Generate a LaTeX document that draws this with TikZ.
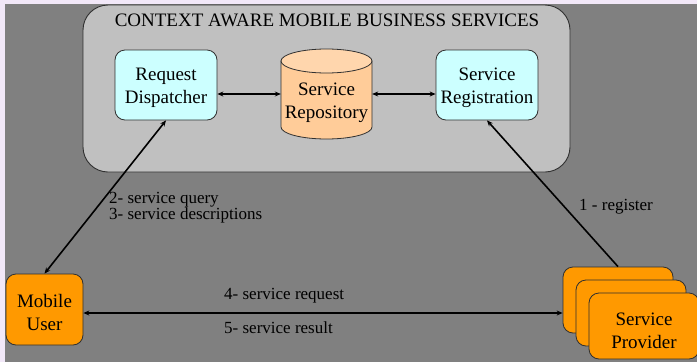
\documentclass[tikz,border=0pt]{standalone}
\usepackage{fontspec}
\setmainfont{Liberation Serif}
\usetikzlibrary{arrows.meta,calc}
\definecolor{lav}{HTML}{F2E8F8}
\definecolor{bggray}{HTML}{808080}
\definecolor{contgray}{HTML}{C0C0C0}
\definecolor{lcyan}{HTML}{CCFFFF}
\definecolor{peach}{HTML}{FFCC99}
\definecolor{peachtop}{HTML}{FFD6AD}
\definecolor{orng}{HTML}{FF9900}
\definecolor{edge}{HTML}{303030}
\tikzset{
  box/.style={draw=edge, line width=0.8pt, rounded corners=10pt, inner sep=0pt, align=center,
              font=\fontsize{19}{23}\selectfont},
  cyanbox/.style={box, fill=lcyan, minimum width=102pt, minimum height=70pt},
  orangebox/.style={box, fill=orng},
  txt/.style={inner sep=0pt, align=center, font=\fontsize{19}{23}\selectfont},
  lbl/.style={font=\fontsize{17}{16}\selectfont, inner sep=0pt, align=left},
  conn/.style={line width=1.6pt, black, -{Stealth[length=6pt,width=5pt]}},
  dconn/.style={line width=1.6pt, black, {Stealth[length=6pt,width=5pt]}-{Stealth[length=6pt,width=5pt]}}
}
\begin{document}
\begin{tikzpicture}[x=1pt,y=-1pt]
\useasboundingbox (0,0) rectangle (697,362);
\fill[lav] (0,0) rectangle (697,362);
\fill[bggray] (5,4) rectangle (697,362);
% container
\filldraw[fill=contgray, draw=edge, line width=0.9pt, rounded corners=25pt] (83,5) rectangle (570,172);
\node[font=\fontsize{19}{23}\selectfont, inner sep=0pt, anchor=base] (title) at (327,26) {CONTEXT AWARE MOBILE BUSINESS SERVICES};
% boxes
\node[cyanbox] (disp) at (166,85) {};
\node[txt] (disptext) at (166,88) {Request\\Dispatcher};
\node[cyanbox] (reg) at (487,85) {};
\node[txt] (regtext) at (487,88) {Service\\Registration};
% cylinder
\filldraw[fill=peach, draw=edge, line width=0.8pt]
  (281,61) -- (281,127) .. controls (281,133.63) and (301.37,139) .. (326.5,139)
  .. controls (351.63,139) and (372,133.63) .. (372,127) -- (372,61) -- cycle;
\filldraw[fill=peachtop, draw=edge, line width=0.8pt] (326.5,61) ellipse [x radius=45.5pt, y radius=12pt];
\node[inner sep=0pt, minimum width=91pt, minimum height=90pt] (repo) at (326.5,94) {};
\node[txt] (repotext) at (326.5,103) {Service\\Repository};
% mobile user
\node[orangebox, minimum width=77pt, minimum height=71pt] (user) at (44.5,309.5) {};
\node[txt] (usertext) at (44.5,312) {Mobile\\User};
% service provider stack
\node[orangebox, minimum width=110pt, minimum height=66pt] (p1) at (618,300) {};
\node[orangebox, minimum width=110pt, minimum height=66pt] (p2) at (631,313) {};
\node[orangebox, minimum width=110pt, minimum height=66pt] (p3) at (644,326) {};
\node[txt] (ptext) at (644,331) {Service\\Provider};
% connectors
\draw[dconn] (repo.west -| disp.east) -- (repo.west);
\draw[dconn] (repo.east) -- (repo.east -| reg.west);
\draw[dconn] (disp.south) -- (user.north);
\draw[conn] (p1.north) -- (reg.south);
\draw[dconn] ([yshift=-3.5pt]user.east) coordinate (h1) -- (h1 -| p1.west);
% labels
\node[lbl, anchor=west] (l23) at (109,208) {2- service query\\3- service descriptions};
\node[lbl, anchor=west] (l1) at (579,207) {1 - register};
\node[lbl, anchor=west] (l4) at (224,296) {4- service request};
\node[lbl, anchor=west] (l5) at (224,328) {5- service result};
\end{tikzpicture}
\end{document}
